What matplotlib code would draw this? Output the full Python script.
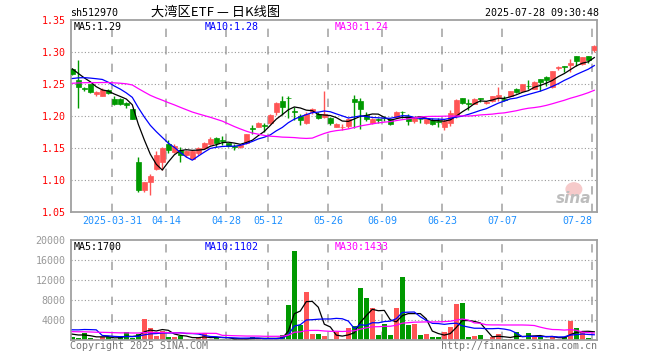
import numpy as np
import pandas as pd
import matplotlib
matplotlib.use("Agg")
import matplotlib.pyplot as plt
from matplotlib.patches import Ellipse

# daily candles 2025-03-20 .. 2025-07-28 (88 sessions)
opens = [1.274, 1.257, 1.244, 1.250, 1.235, 1.232, 1.241, 1.227, 1.227, 1.220,
         1.211, 1.129, 1.085, 1.098, 1.118, 1.128, 1.156, 1.144, 1.148, 1.139,
         1.134, 1.142, 1.150, 1.156, 1.166, 1.163, 1.158, 1.153, 1.152, 1.158,
         1.181, 1.184, 1.186, 1.189, 1.207, 1.224, 1.229, 1.208, 1.201, 1.189,
         1.206, 1.203, 1.199, 1.197, 1.184, 1.183, 1.185, 1.227, 1.224, 1.202,
         1.190, 1.195, 1.198, 1.195, 1.199, 1.207, 1.200, 1.192, 1.196, 1.189,
         1.194, 1.192, 1.183, 1.189, 1.200, 1.228, 1.221, 1.220, 1.228, 1.221,
         1.224, 1.230, 1.227, 1.232, 1.242, 1.240, 1.248, 1.243, 1.258, 1.261,
         1.245, 1.276, 1.278, 1.280, 1.294, 1.282, 1.294, 1.304]
highs = [1.276, 1.288, 1.246, 1.251, 1.239, 1.244, 1.243, 1.232, 1.228, 1.222,
         1.211, 1.137, 1.098, 1.110, 1.146, 1.152, 1.163, 1.156, 1.152, 1.147,
         1.147, 1.152, 1.160, 1.168, 1.168, 1.169, 1.159, 1.156, 1.157, 1.173,
         1.186, 1.191, 1.189, 1.203, 1.222, 1.232, 1.231, 1.215, 1.204, 1.207,
         1.213, 1.207, 1.240, 1.199, 1.189, 1.188, 1.197, 1.233, 1.228, 1.207,
         1.197, 1.198, 1.200, 1.198, 1.208, 1.208, 1.204, 1.199, 1.199, 1.197,
         1.197, 1.197, 1.195, 1.210, 1.227, 1.229, 1.227, 1.228, 1.229, 1.224,
         1.232, 1.246, 1.232, 1.240, 1.244, 1.251, 1.257, 1.255, 1.259, 1.263,
         1.271, 1.278, 1.279, 1.290, 1.295, 1.293, 1.295, 1.312]
lows = [1.264, 1.213, 1.239, 1.236, 1.232, 1.231, 1.235, 1.218, 1.217, 1.213,
        1.195, 1.081, 1.082, 1.077, 1.116, 1.116, 1.142, 1.142, 1.128, 1.137,
        1.133, 1.140, 1.149, 1.155, 1.152, 1.155, 1.152, 1.148, 1.151, 1.157,
        1.173, 1.183, 1.176, 1.188, 1.202, 1.202, 1.197, 1.194, 1.187, 1.188,
        1.203, 1.196, 1.197, 1.187, 1.183, 1.178, 1.182, 1.181, 1.180, 1.192,
        1.188, 1.190, 1.192, 1.186, 1.197, 1.197, 1.186, 1.189, 1.190, 1.188,
        1.186, 1.184, 1.178, 1.185, 1.198, 1.219, 1.210, 1.219, 1.222, 1.219,
        1.223, 1.224, 1.224, 1.231, 1.236, 1.239, 1.242, 1.242, 1.240, 1.247,
        1.244, 1.273, 1.269, 1.270, 1.278, 1.280, 1.284, 1.301]
closes = [1.266, 1.246, 1.243, 1.238, 1.238, 1.241, 1.237, 1.220, 1.219, 1.218,
          1.196, 1.085, 1.098, 1.107, 1.139, 1.151, 1.148, 1.154, 1.140, 1.146,
          1.146, 1.150, 1.159, 1.165, 1.158, 1.162, 1.154, 1.152, 1.155, 1.172,
          1.180, 1.190, 1.185, 1.202, 1.221, 1.215, 1.228, 1.207, 1.194, 1.204,
          1.211, 1.198, 1.203, 1.190, 1.188, 1.184, 1.195, 1.222, 1.211, 1.195,
          1.195, 1.194, 1.197, 1.188, 1.207, 1.206, 1.192, 1.197, 1.195, 1.195,
          1.188, 1.191, 1.193, 1.205, 1.225, 1.221, 1.220, 1.227, 1.227, 1.222,
          1.231, 1.234, 1.226, 1.239, 1.238, 1.250, 1.247, 1.253, 1.253, 1.256,
          1.271, 1.277, 1.277, 1.283, 1.286, 1.292, 1.288, 1.310]
volumes = [730, 460, 1530, 460, 260, 730, 660, 330, 660, 1730,
           460, 1330, 4260, 2400, 860, 1860, 600, 600, 930, 260,
           330, 460, 1400, 250, 400, 330, 250, 300, 300, 330,
           660, 300, 330, 300, 330, 1060, 7060, 17730, 3000, 9730,
           1260, 1260, 800, 260, 1600, 260, 2460, 2930, 10500, 8500,
           6500, 1060, 3260, 1060, 6530, 12700, 3060, 3260, 1090, 1200,
           600, 600, 1700, 2600, 7300, 7500, 600, 860, 1060, 330,
           600, 1200, 330, 330, 1600, 330, 1400, 730, 700, 300,
           700, 220, 600, 3800, 2500, 1700, 400, 100]

# sessions before the window, only feed the moving averages
pre_close = [1.230, 1.232, 1.236, 1.238, 1.235, 1.237, 1.236, 1.236,
             1.245, 1.250, 1.255, 1.258, 1.262, 1.260, 1.258, 1.262,
             1.259, 1.256, 1.257, 1.256,
             1.235, 1.240, 1.245, 1.248, 1.252,
             1.281, 1.278, 1.268, 1.277]
pre_vol = [1400, 1700, 1500, 1800, 1300, 1600, 1500, 1700, 1400, 1600,
           1500, 1800, 1400, 1600, 1500, 1700, 1500, 1400, 1600, 1500,
           600, 800, 700, 700, 12000,
           1300, 1500, 1200, 1400]

tick_idx = [7, 16, 26, 33, 43, 52, 62, 72, 87]
tick_labels = ["2025-03-31", "04-14", "04-28", "05-12", "05-26",
               "06-09", "06-23", "07-07", "07-28"]

RED = "#ff5555"
GREEN = "#009900"
FRAME = "#a0a0a0"
GRID = "#a8a8a8"
MONO = "DejaVu Sans Mono"
W, H = 660, 360


def px_axes(fig, left, top, right, bottom):
    return fig.add_axes([left / W, 1 - bottom / H, (right - left) / W, (bottom - top) / H])


def moving_averages(pre, vals, windows=(5, 10, 30)):
    s = pd.Series(list(pre) + list(vals), dtype=float)
    n = len(pre)
    return [s.rolling(w).mean().to_numpy()[n:] for w in windows]


def style_axes(ax, xlim):
    ax.set_xlim(*xlim)
    for sp in ax.spines.values():
        sp.set_color(FRAME)
        sp.set_linewidth(1.3)
    ax.tick_params(length=0)
    for t in tick_idx:
        ax.axvline(t - 0.33, color=GRID, lw=1.2, ls=(0, (5, 5.5)), zorder=0)


def main():
    n = len(closes)
    x = np.arange(n)
    o, h, l, c = map(np.array, (opens, highs, lows, closes))
    prev = np.concatenate([[pre_close[-1]], c[:-1]])
    up = np.where(c != o, c > o, c >= prev)
    colors = [RED if u else GREEN for u in up]

    fig = plt.figure(figsize=(W / 100, H / 100), dpi=100)
    fig.patch.set_facecolor("white")
    xlim = (-0.3, 87.45)

    # price panel
    ax = px_axes(fig, 70.5, 20.3, 597, 212.3)
    style_axes(ax, xlim)
    ax.set_ylim(1.05, 1.35)
    for yv in [1.10, 1.15, 1.20, 1.25, 1.30]:
        ax.axhline(yv, color="#999999", lw=0.8, ls=(0, (1, 2)), zorder=0)

    # sina watermark
    ax.add_patch(Ellipse((83.6, 1.086), 2.6, 0.02, color="#f6caca", zorder=1))
    ax.text(83.6, 1.071, "sina", color="#bdbdbd", fontsize=11, style="italic",
            fontweight="bold", ha="center", va="center", zorder=1)

    ax.vlines(x, l, h, colors=colors, lw=1, zorder=2)
    body = np.abs(c - o)
    ax.bar(x, np.maximum(body, 0.0006), bottom=np.minimum(o, c), width=0.75,
           color=colors, edgecolor=colors, linewidth=0.5, zorder=3)

    ma5, ma10, ma30 = moving_averages(pre_close, closes)
    ax.plot(x, ma5, color="black", lw=0.9, zorder=4)
    ax.plot(x, ma10, color="#0000ff", lw=0.9, zorder=4)
    ax.plot(x, ma30, color="#ff00ff", lw=0.9, zorder=4)

    yt = [1.05, 1.10, 1.15, 1.20, 1.25, 1.30, 1.35]
    ax.set_yticks(yt)
    ax.set_yticklabels([f"{v:.2f}" for v in yt], color="red", family=MONO, fontsize=7.2)
    ax.tick_params(axis="y", pad=3.5)
    ax.set_xticks([t - 0.33 for t in tick_idx])
    labels = ax.set_xticklabels(tick_labels, color="#1e90ff", family=MONO, fontsize=7.2)
    labels[-1].set_ha("right")
    ax.tick_params(axis="x", pad=3)

    fig.text(74 / W, 1 - 26.5 / H, f"MA5:{ma5[-1]:.2f}", color="black", family=MONO,
             fontsize=7.2, va="center")
    fig.text(205 / W, 1 - 26.5 / H, f"MA10:{ma10[-1]:.2f}", color="#0000ff", family=MONO,
             fontsize=7.2, va="center")
    fig.text(335 / W, 1 - 26.5 / H, f"MA30:{ma30[-1]:.2f}", color="#ff00ff", family=MONO,
             fontsize=7.2, va="center")

    # volume panel
    av = px_axes(fig, 70.5, 240, 597, 340.3)
    style_axes(av, xlim)
    av.set_ylim(0, 20000)
    for yv in [4000, 8000, 12000, 16000]:
        av.axhline(yv, color="#999999", lw=0.8, ls=(0, (1, 2)), zorder=0)
    av.bar(x, volumes, width=0.78, color=colors, zorder=2)
    v5, v10, v30 = moving_averages(pre_vol, volumes)
    av.plot(x, v5, color="black", lw=0.9, zorder=3)
    av.plot(x, v10, color="#0000ff", lw=0.9, zorder=3)
    av.plot(x, v30, color="#ff00ff", lw=0.9, zorder=3)
    vt = [4000, 8000, 12000, 16000, 20000]
    av.set_yticks(vt)
    av.set_yticklabels([str(v) for v in vt], color="#999999", family=MONO, fontsize=7.2)
    av.tick_params(axis="y", pad=3.5)
    av.set_xticks([])

    fig.text(74 / W, 1 - 246.5 / H, f"MA5:{v5[-1]:.0f}", color="black", family=MONO,
             fontsize=7.2, va="center")
    fig.text(205 / W, 1 - 246.5 / H, f"MA10:{v10[-1]:.0f}", color="#0000ff", family=MONO,
             fontsize=7.2, va="center")
    fig.text(335 / W, 1 - 246.5 / H, f"MA30:{v30[-1]:.0f}", color="#ff00ff", family=MONO,
             fontsize=7.2, va="center")

    # header and footer
    fig.text(70 / W, 1 - 13 / H, "sh512970", family=MONO, fontsize=7.2, va="center")
    fig.text(216 / W, 1 - 12.5 / H, "大湾区ETF — 日K线图", family=["Noto Sans CJK SC", "DejaVu Sans"],
             fontsize=9.5, ha="center", va="center")
    fig.text(599 / W, 1 - 13 / H, "2025-07-28 09:30:48", family=MONO, fontsize=7.2,
             ha="right", va="center")
    fig.text(70 / W, 1 - 346 / H, "Copyright 2025 SINA.COM", family=MONO, fontsize=7.2,
             color="#777777", va="center")
    fig.text(597 / W, 1 - 346 / H, "http://finance.sina.com.cn", family=MONO, fontsize=7.2,
             color="#777777", ha="right", va="center")

    fig.savefig("out.png", dpi=100)
    plt.close(fig)


if __name__ == "__main__":
    main()
